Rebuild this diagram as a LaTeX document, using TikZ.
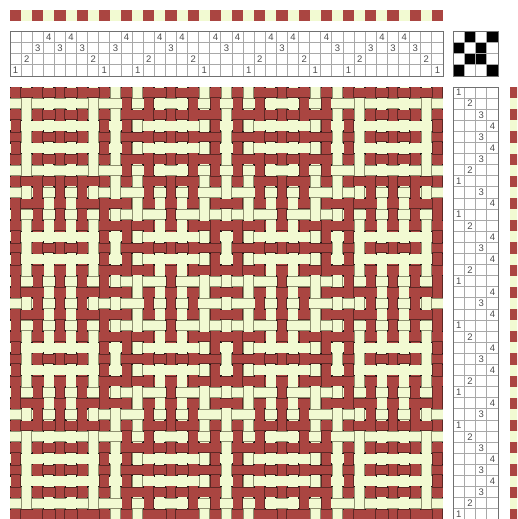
\documentclass[tikz,border=0pt]{standalone}
\usepackage{fontspec}
\setmainfont{Liberation Sans}
\definecolor{warpred}{HTML}{AA4541}
\definecolor{weftyel}{HTML}{F2FAD2}
\definecolor{gridgray}{HTML}{A8A8A8}
\definecolor{framegray}{HTML}{707070}
\definecolor{knot}{HTML}{1A1414}
\definecolor{redshade}{HTML}{5E2825}
\definecolor{yelshade}{HTML}{8E9070}
\def\seq{{1,2,3,4,3,4,3,2,1,3,4,1,2,4,3,4,2,1,4,3,4,1,2,4,3,4,2,1,4,3,1,2,3,4,3,4,3,2,1}}
\def\tied#1#2{\ifcase#1\or
  \ifcase#2\or 1\or 0\or 0\or 1\fi\or
  \ifcase#2\or 0\or 1\or 1\or 0\fi\or
  \ifcase#2\or 1\or 0\or 1\or 0\fi\or
  \ifcase#2\or 0\or 1\or 0\or 1\fi\fi}
\tikzset{
  gridline/.style={draw=gridgray,line width=1pt},
  frameline/.style={draw=framegray,line width=1pt},
  digit/.style={font=\fontsize{9.5}{10}\selectfont,text=black!70,inner sep=0pt,anchor=center}
}
\begin{document}
\begin{tikzpicture}[x=1pt,y=-1pt]
\pgfmathsetmacro{\cc}{433/39}
\clip (0,0) rectangle (517,519);
\fill[white] (0,0) rectangle (517,519);
\foreach \i in {0,...,38}{
  \pgfmathtruncatemacro{\m}{mod(\i,2)}
  \ifnum\m=0 \def\col{warpred}\else\def\col{weftyel}\fi
  \pgfmathsetmacro{\a}{10+\i*\cc}
  \fill[\col] (\a,10) rectangle ++(\cc,11);
  \pgfmathsetmacro{\b}{87+\i*\cc}
  \fill[\col] (510,\b) rectangle ++(11,\cc);
}
\foreach \i in {0,...,39}{\pgfmathsetmacro{\a}{10+\i*\cc}\draw[gridline] (\a,32)--(\a,76);}
\foreach \j in {0,...,4}{\draw[gridline] (10,32+\j*11)--(443,32+\j*11);}
\draw[frameline] (10,32) rectangle (443,76);
\foreach \j in {0,...,39}{\pgfmathsetmacro{\b}{87+\j*\cc}\draw[gridline] (453,\b)--(498,\b);}
\foreach \i in {0,...,4}{\draw[gridline] (453+\i*11.25,87)--(453+\i*11.25,520);}
\draw[frameline] (453,87) rectangle (498,520);
\foreach \i in {0,...,38}{
  \pgfmathtruncatemacro{\s}{\seq[\i]}
  \pgfmathsetmacro{\a}{10+(\i+0.5)*\cc}
  \pgfmathsetmacro{\b}{87+(\i+0.5)*\cc}
  \node[digit] (t\i) at (\a,76-\s*11+5.5) {\s};
  \node[digit] (r\i) at (453+\s*11.25-5.6,\b) {\s};
}
\foreach \sh in {1,2,3,4}\foreach \tr in {1,2,3,4}{
  \if1\tied{\sh}{\tr}
    \fill[black] (453+\tr*11.25-11.25,76-\sh*11) rectangle ++(11.25,11);
  \fi
}
\foreach \i in {0,...,4}{\draw[gridline] (453+\i*11.25,32)--(453+\i*11.25,76);
  \draw[gridline] (453,32+\i*11)--(498,32+\i*11);}
\draw[frameline] (453,32) rectangle (498,76);
% cloth
\fill[knot] (10,87) rectangle (443,520);
\pgfmathsetmacro{\gap}{1.0}
\foreach \j in {0,...,38}{
  \pgfmathtruncatemacro{\tr}{\seq[\j]}
  \pgfmathtruncatemacro{\wm}{mod(\j,2)}
  \ifnum\wm=0 \def\wc{warpred}\def\wsh{redshade}\def\wa{0.5}\def\wb{1.2}\else\def\wc{weftyel}\def\wsh{yelshade}\def\wa{0.3}\def\wb{0.9}\fi
  \pgfmathsetmacro{\yy}{87+\j*\cc}
  \foreach \i in {0,...,38}{
    \pgfmathtruncatemacro{\sh}{\seq[\i]}
    \pgfmathtruncatemacro{\im}{mod(\i,2)}
    \ifnum\im=0 \def\vc{warpred}\def\vsh{redshade}\def\va{0.5}\def\vb{1.2}\else\def\vc{weftyel}\def\vsh{yelshade}\def\va{0.3}\def\vb{0.9}\fi
    \pgfmathsetmacro{\xx}{10+\i*\cc}
    \if1\tied{\sh}{\tr}
      \fill[\wc] (\xx,\yy+\gap) rectangle (\xx+\cc,\yy+\cc-\gap);
      \fill[\vsh] (\xx+\va,\yy) rectangle (\xx+\cc-\va,\yy+\cc);
      \fill[\vc] (\xx+\vb,\yy) rectangle (\xx+\cc-\vb,\yy+\cc);
    \else
      \fill[\vc] (\xx+\gap,\yy) rectangle (\xx+\cc-\gap,\yy+\cc);
      \fill[\wsh] (\xx,\yy+\wa) rectangle (\xx+\cc,\yy+\cc-\wa);
      \fill[\wc] (\xx,\yy+\wb) rectangle (\xx+\cc,\yy+\cc-\wb);
    \fi
  }
}
\end{tikzpicture}
\end{document}
